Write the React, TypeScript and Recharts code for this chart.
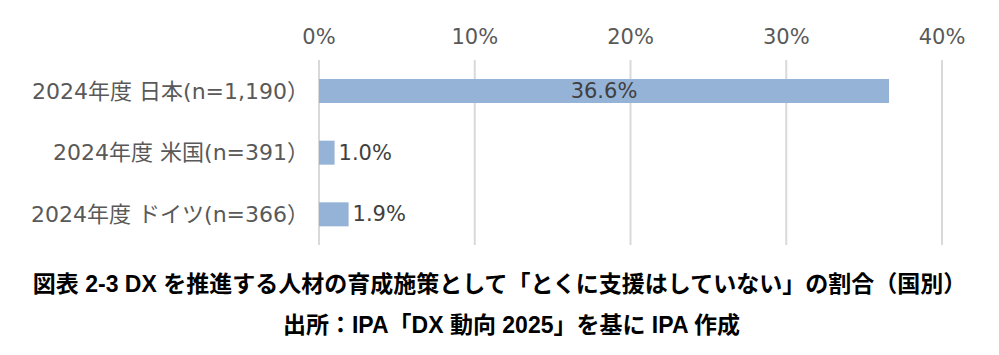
import React from "react";
import {
  BarChart,
  Bar,
  XAxis,
  YAxis,
  CartesianGrid,
  LabelList,
} from "recharts";

const categories = [
  "2024年度 日本(n=1,190）",
  "2024年度 米国(n=391）",
  "2024年度 ドイツ(n=366）",
];
const values = [0.366, 0.01, 0.019];
const xTicks = [0, 0.1, 0.2, 0.3, 0.4];

const data = categories.map((name, i) => ({ name, value: values[i] }));

const FONT = "'DejaVu Sans', 'Noto Sans CJK JP', sans-serif";
const TITLE_FONT = "'Liberation Sans', 'Noto Sans CJK JP', sans-serif";

const pct = (v: number) => `${Math.round(v * 100)}%`;

const ValueLabel = (props: any) => {
  const { x, y, width, height, value } = props;
  const inside = value > 0.1;
  return (
    <text
      x={inside ? x + width / 2 : x + width + 4}
      y={y + height / 2}
      textAnchor={inside ? "middle" : "start"}
      dominantBaseline="central"
      fill="#404040"
      fontSize={21}
      fontFamily={FONT}
    >
      {(value * 100).toFixed(1)}%
    </text>
  );
};

const App = () => {
  return (
    <div
      style={{
        position: "absolute",
        left: 0,
        top: 0,
        width: 999,
        height: 355,
        background: "#fff",
      }}
    >
      <BarChart
        width={999}
        height={260}
        data={data}
        layout="vertical"
        margin={{ top: 0, right: 57, left: 0, bottom: 15 }}
      >
        <CartesianGrid
          horizontal={false}
          stroke="#d9d9d9"
          strokeWidth={2}
        />
        <XAxis
          type="number"
          orientation="top"
          domain={[0, 0.4]}
          ticks={xTicks}
          tickFormatter={pct}
          height={60}
          axisLine={false}
          tickLine={false}
          tickMargin={10}
          tick={{ fill: "#595959", fontSize: 21, fontFamily: FONT }}
        />
        <YAxis
          type="category"
          dataKey="name"
          width={319}
          axisLine={false}
          tickLine={false}
          tickMargin={4}
          tick={{ fill: "#595959", fontSize: 22, fontFamily: FONT }}
        />
        <Bar
          dataKey="value"
          fill="#95b3d7"
          barSize={24}
          isAnimationActive={false}
        >
          <LabelList dataKey="value" content={ValueLabel} />
        </Bar>
      </BarChart>
      <div
        style={{
          fontFamily: TITLE_FONT,
          fontWeight: "bold",
          fontSize: 23,
          color: "#000",
          textAlign: "center",
          width: 999,
          marginTop: 4,
          lineHeight: "41px",
        }}
      >
        <div>
          図表 2-3 DX を推進する人材の育成施策として「とくに支援はしていない」の割合（国別）
        </div>
        <div style={{ paddingLeft: 24 }}>出所：IPA「DX 動向 2025」を基に IPA 作成</div>
      </div>
    </div>
  );
};

export default App;
